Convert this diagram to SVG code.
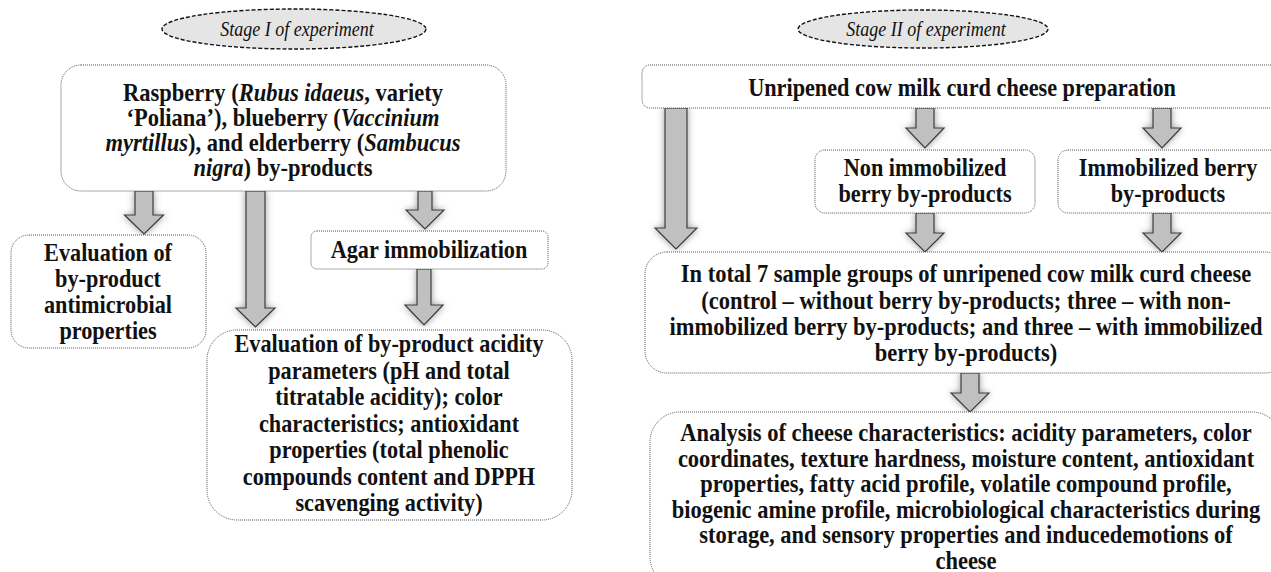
<svg xmlns="http://www.w3.org/2000/svg" width="1271" height="572" viewBox="0 0 1271 572">
<defs>
<filter id="glow" x="-50%" y="-20%" width="200%" height="140%">
<feGaussianBlur in="SourceAlpha" stdDeviation="3.5" result="b"/>
<feFlood flood-color="#8a8a8a" flood-opacity="0.9"/>
<feComposite in2="b" operator="in" result="s"/>
<feMerge><feMergeNode in="s"/><feMergeNode in="SourceGraphic"/></feMerge>
</filter>
</defs>
<style>
.box{fill:#fff;stroke:#555;stroke-width:1;stroke-dasharray:1 1}
.stage{fill:#e5e5e5;stroke:#111;stroke-width:1.4;stroke-dasharray:4 2}
.st{font-family:"Liberation Serif",serif;font-style:italic;font-size:20px;text-anchor:middle;fill:#111}
.t{font-family:"Liberation Serif",serif;font-weight:bold;font-size:25px;text-anchor:middle;fill:#111}
.i{font-style:italic}
.arr{fill:#c0c0c0;stroke:#3a3a3a;stroke-width:1.2;filter:url(#glow)}
</style>
<rect width="1271" height="572" fill="#fff"/>

<g id="stage1">
<ellipse class="stage" cx="294" cy="29" rx="132" ry="20"/>
<text class="st" transform="translate(297,36) scale(0.9,1)">Stage I of experiment</text>
</g>
<g id="stage2">
<ellipse class="stage" cx="923" cy="29" rx="125" ry="19"/>
<text class="st" transform="translate(926,36) scale(0.9,1)">Stage II of experiment</text>
</g>

<g id="connectors">
<path class="arr" d="M135,191 H153 V215 H163.5 L144,234 L124.5,215 H135 Z"/>
<path class="arr" d="M246,191 H265 V308 H275 L255.5,327 L236,308 H246 Z"/>
<path class="arr" d="M418,191 H432 V210 H444 L425,229 L406,210 H418 Z"/>
<path class="arr" d="M417,269 H431 V305 H443 L424,325 L405,305 H417 Z"/>
<path class="arr" d="M665,108 H687 V228 H697 L676,249 L655,228 H665 Z"/>
<path class="arr" d="M916,108 H934 V128 H944 L925,148 L906,128 H916 Z"/>
<path class="arr" d="M1153,108 H1171 V128 H1181 L1162,148 L1143,128 H1153 Z"/>
<path class="arr" d="M916,213 H934 V233 H944 L925,252 L906,233 H916 Z"/>
<path class="arr" d="M1153,213 H1171 V233 H1181 L1162,252 L1143,233 H1153 Z"/>
<path class="arr" d="M961,373 H979 V393 H989 L970,412 L951,393 H961 Z"/>
</g>

<g id="byproducts">
<rect class="box" x="61" y="65" width="445" height="126" rx="20"/>
<text class="t" transform="translate(283,101) scale(0.9,1)">Raspberry (<tspan class="i">Rubus idaeus</tspan>, variety</text>
<text class="t" transform="translate(283,126) scale(0.9,1)">‘Poliana’), blueberry (<tspan class="i">Vaccinium</tspan></text>
<text class="t" transform="translate(283,151) scale(0.9,1)"><tspan class="i">myrtillus</tspan>), and elderberry (<tspan class="i">Sambucus</tspan></text>
<text class="t" transform="translate(283,176) scale(0.9,1)"><tspan class="i">nigra</tspan>) by-products</text>
</g>

<g id="antimicrobial">
<rect class="box" x="11" y="235" width="195" height="113" rx="18"/>
<text class="t" transform="translate(108,261) scale(0.89,1)">Evaluation of</text>
<text class="t" transform="translate(108,287) scale(0.89,1)">by-product</text>
<text class="t" transform="translate(108,313) scale(0.89,1)">antimicrobial</text>
<text class="t" transform="translate(108,339) scale(0.89,1)">properties</text>
</g>

<g id="agar">
<rect class="box" x="311" y="231" width="237" height="38" rx="6"/>
<text class="t" transform="translate(429,258) scale(0.89,1)">Agar immobilization</text>
</g>

<g id="acidity">
<rect class="box" x="207" y="330" width="365" height="190" rx="30"/>
<text class="t" transform="translate(389,352) scale(0.89,1)">Evaluation of by-product acidity</text>
<text class="t" transform="translate(389,378.5) scale(0.89,1)">parameters (pH and total</text>
<text class="t" transform="translate(389,405) scale(0.89,1)">titratable acidity); color</text>
<text class="t" transform="translate(389,431.5) scale(0.89,1)">characteristics; antioxidant</text>
<text class="t" transform="translate(389,458) scale(0.89,1)">properties (total phenolic</text>
<text class="t" transform="translate(389,484.5) scale(0.89,1)">compounds content and DPPH</text>
<text class="t" transform="translate(389,511) scale(0.89,1)">scavenging activity)</text>
</g>

<g id="preparation">
<rect class="box" x="642" y="65" width="640" height="43" rx="8"/>
<text class="t" transform="translate(962,96) scale(0.89,1)">Unripened cow milk curd cheese preparation</text>
</g>

<g id="nonimmobilized">
<rect class="box" x="815" y="150" width="220" height="63" rx="10"/>
<text class="t" transform="translate(925,176) scale(0.89,1)">Non immobilized</text>
<text class="t" transform="translate(925,202) scale(0.89,1)">berry by-products</text>
</g>

<g id="immobilized">
<rect class="box" x="1058" y="150" width="230" height="63" rx="10"/>
<text class="t" transform="translate(1168,176) scale(0.89,1)">Immobilized berry</text>
<text class="t" transform="translate(1168,202) scale(0.89,1)">by-products</text>
</g>

<g id="samplegroups">
<rect class="box" x="645" y="252" width="642" height="121" rx="22"/>
<text class="t" transform="translate(966,282) scale(0.9,1)">In total 7 sample groups of unripened cow milk curd cheese</text>
<text class="t" transform="translate(966,308.5) scale(0.9,1)">(control – without berry by-products; three – with non-</text>
<text class="t" transform="translate(966,335) scale(0.9,1)">immobilized berry by-products; and three – with immobilized</text>
<text class="t" transform="translate(966,361) scale(0.9,1)">berry by-products)</text>
</g>

<g id="analysis">
<rect class="box" x="650" y="412" width="632" height="175" rx="30"/>
<text class="t" transform="translate(966,441) scale(0.9,1)">Analysis of cheese characteristics: acidity parameters, color</text>
<text class="t" transform="translate(966,466.5) scale(0.9,1)">coordinates, texture hardness, moisture content, antioxidant</text>
<text class="t" transform="translate(966,492) scale(0.9,1)">properties, fatty acid profile, volatile compound profile,</text>
<text class="t" transform="translate(966,517.5) scale(0.9,1)">biogenic amine profile, microbiological characteristics during</text>
<text class="t" transform="translate(966,543) scale(0.9,1)">storage, and sensory properties and inducedemotions of</text>
<text class="t" transform="translate(966,568.5) scale(0.9,1)">cheese</text>
</g>
</svg>
